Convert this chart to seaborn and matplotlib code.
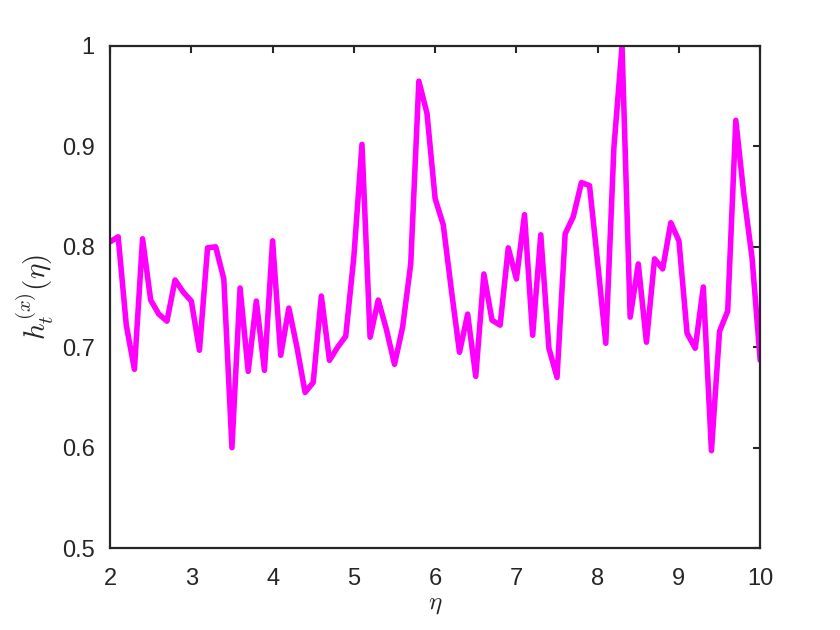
import matplotlib
matplotlib.use("Agg")
import matplotlib.pyplot as plt
import seaborn as sns
import numpy as np
import pandas as pd

# eta grid and the h_t^(x) values
eta = [round(2 + 0.1 * i, 1) for i in range(81)]
h_t = [
    0.805, 0.810, 0.722, 0.678, 0.808, 0.747, 0.733, 0.726, 0.767, 0.755,
    0.746, 0.697, 0.799, 0.800, 0.768, 0.600, 0.759, 0.676, 0.746, 0.677,
    0.806, 0.692, 0.739, 0.700, 0.655, 0.665, 0.751, 0.687, 0.700, 0.711,
    0.790, 0.902, 0.710, 0.747, 0.718, 0.683, 0.720, 0.783, 0.965, 0.933,
    0.848, 0.822, 0.757, 0.695, 0.733, 0.671, 0.773, 0.727, 0.722, 0.799,
    0.768, 0.832, 0.712, 0.812, 0.699, 0.670, 0.813, 0.830, 0.864, 0.861,
    0.784, 0.704, 0.899, 1.000, 0.730, 0.783, 0.705, 0.788, 0.778, 0.824,
    0.806, 0.714, 0.699, 0.760, 0.597, 0.716, 0.736, 0.926, 0.851, 0.789,
    0.687,
]
x_ticks = [2, 3, 4, 5, 6, 7, 8, 9, 10]
y_ticks = [0.5, 0.6, 0.7, 0.8, 0.9, 1.0]
y_tick_labels = ["0.5", "0.6", "0.7", "0.8", "0.9", "1"]

df = pd.DataFrame({"eta": eta, "h": h_t})

sns.set_style("white")
plt.rcParams["font.family"] = ["Liberation Sans", "DejaVu Sans"]
plt.rcParams["mathtext.fontset"] = "cm"

fig = plt.figure(figsize=(8.4, 6.3), dpi=100)
ax = fig.add_axes([0.131, 0.130, 0.774, 0.797])
sns.lineplot(data=df, x="eta", y="h", color="#FF00FF", linewidth=4, ax=ax)

ax.set_xlim(2, 10)
ax.set_ylim(0.5, 1.0)
ax.set_xticks(x_ticks)
ax.set_xticklabels([str(t) for t in x_ticks])
ax.set_yticks(y_ticks)
ax.set_yticklabels(y_tick_labels)
ax.tick_params(direction="in", length=5, width=1.5, colors="#262626",
               labelsize=17, top=True, right=True)
ax.tick_params(axis="x", pad=14)
ax.tick_params(axis="y", pad=11)
for s in ax.spines.values():
    s.set_color("#262626")
    s.set_linewidth(1.6)
    s.set_visible(True)
ax.set_xlabel(r"$\eta$", fontsize=18, color="#262626", labelpad=2)
ax.set_ylabel(r"$h_t^{(x)}(\eta)$", fontsize=21, color="#262626", labelpad=4)

fig.savefig("out.png", dpi=100)
